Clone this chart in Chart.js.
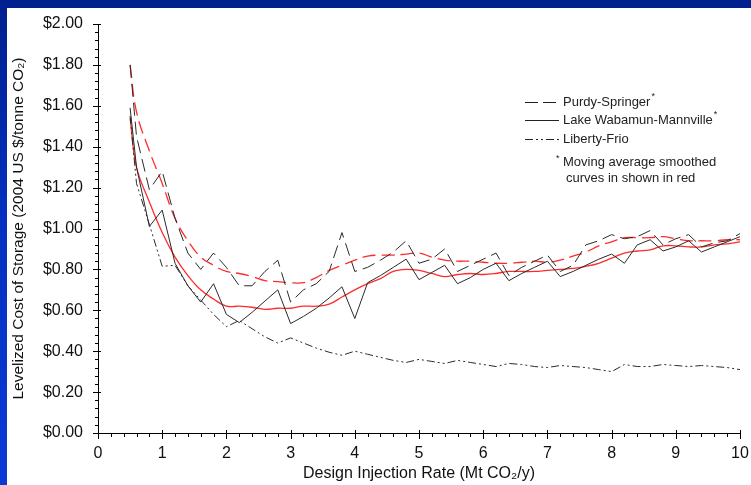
<!DOCTYPE html>
<html>
<head>
<meta charset="utf-8">
<script src="https://cdn.jsdelivr.net/npm/chart.js@4.4.0/dist/chart.umd.min.js"></script>
<style>
  html, body { margin: 0; padding: 0; }
  body {
    width: 751px; height: 485px; overflow: hidden; position: relative;
    background: linear-gradient(to bottom, #00208e 0%, #0530c0 45%, #0a3ad6 100%);
  }
  #panel { position: absolute; left: 7px; top: 8px; width: 744px; height: 477px; background: #fff; }
</style>
</head>
<body>
<div id="panel"><canvas id="chart" width="744" height="477"></canvas></div>
<script>
// injection rate (Mt CO2/y)
const rates = [0.5, 0.6, 0.8, 1.0, 1.2, 1.4, 1.6, 1.8, 2.0, 2.2,
  2.4, 2.6, 2.8, 3.0, 3.2, 3.4, 3.6, 3.8, 4.0, 4.2,
  4.4, 4.6, 4.8, 5.0, 5.2, 5.4, 5.6, 5.8, 6.0, 6.2,
  6.4, 6.6, 6.8, 7.0, 7.2, 7.4, 7.6, 7.8, 8.0, 8.2,
  8.4, 8.6, 8.8, 9.0, 9.2, 9.4, 9.6, 9.8, 10.0];

const purdyRaw = [1.80, 1.45, 1.19, 1.28, 1.05, 0.88, 0.80, 0.88, 0.81, 0.72,
  0.72, 0.79, 0.845, 0.64, 0.70, 0.73, 0.79, 0.98, 0.79, 0.81,
  0.845, 0.885, 0.94, 0.83, 0.85, 0.90, 0.79, 0.82, 0.85, 0.88,
  0.77, 0.81, 0.84, 0.87, 0.79, 0.82, 0.92, 0.94, 0.97, 0.95,
  0.96, 0.99, 0.92, 0.95, 0.97, 0.91, 0.93, 0.94, 0.975];

const lakeRaw = [1.59, 1.30, 1.01, 1.09, 0.83, 0.72, 0.64, 0.73, 0.58, 0.54,
  0.59, 0.645, 0.70, 0.535, 0.57, 0.61, 0.66, 0.715, 0.56, 0.735,
  0.77, 0.81, 0.85, 0.75, 0.785, 0.82, 0.73, 0.76, 0.80, 0.83,
  0.745, 0.78, 0.81, 0.84, 0.765, 0.79, 0.82, 0.85, 0.875, 0.83,
  0.92, 0.945, 0.89, 0.91, 0.94, 0.885, 0.91, 0.935, 0.96];

const libertyRaw = [1.55, 1.22, 1.02, 0.815, 0.82, 0.72, 0.65, 0.58, 0.52, 0.55,
  0.51, 0.47, 0.44, 0.465, 0.44, 0.415, 0.395, 0.38, 0.40, 0.385,
  0.37, 0.355, 0.345, 0.36, 0.35, 0.34, 0.355, 0.345, 0.335, 0.325,
  0.34, 0.335, 0.325, 0.32, 0.33, 0.325, 0.32, 0.31, 0.30, 0.335,
  0.325, 0.325, 0.335, 0.33, 0.325, 0.33, 0.325, 0.32, 0.31];

// moving average curves (red)
const purdySmooth = [1.80, 1.57, 1.38, 1.22, 1.05, 0.94, 0.86, 0.82, 0.79, 0.78,
  0.765, 0.745, 0.74, 0.735, 0.735, 0.76, 0.795, 0.82, 0.845, 0.865,
  0.87, 0.87, 0.875, 0.88, 0.86, 0.845, 0.84, 0.84, 0.835, 0.83,
  0.83, 0.835, 0.84, 0.835, 0.845, 0.865, 0.885, 0.915, 0.935, 0.955,
  0.955, 0.955, 0.96, 0.95, 0.94, 0.94, 0.94, 0.945, 0.945];

const lakeSmooth = [1.54, 1.30, 1.13, 0.98, 0.86, 0.77, 0.70, 0.655, 0.62, 0.62,
  0.615, 0.605, 0.61, 0.61, 0.62, 0.62, 0.63, 0.665, 0.70, 0.73,
  0.755, 0.79, 0.80, 0.795, 0.78, 0.765, 0.775, 0.78, 0.775, 0.78,
  0.79, 0.79, 0.79, 0.795, 0.80, 0.805, 0.815, 0.83, 0.855, 0.88,
  0.89, 0.895, 0.915, 0.915, 0.91, 0.91, 0.92, 0.925, 0.935];

const FONT = "'Liberation Sans', Arial, sans-serif";
const BLACK = "#2a2a2a";
const RED = "rgba(255, 20, 20, 0.9)";

function pts(values) {
  return rates.map((x, i) => ({ x: x, y: values[i] }));
}

function line(values, color, dash, width, tension) {
  return {
    data: pts(values),
    borderColor: color,
    borderWidth: width,
    borderDash: dash,
    pointRadius: 0,
    tension: tension,
    fill: false
  };
}

// axis lines, minor/major tick marks and the note-style legend
const decorations = {
  id: "decorations",
  afterDraw(chart) {
    const ctx = chart.ctx;
    const xs = chart.scales.x;
    const ys = chart.scales.y;
    const area = chart.chartArea;
    ctx.save();
    ctx.strokeStyle = "#000";
    ctx.lineWidth = 1;
    ctx.beginPath();
    ctx.moveTo(area.left + 0.5, area.top);
    ctx.lineTo(area.left + 0.5, area.bottom + 0.5);
    ctx.lineTo(area.right, area.bottom + 0.5);

    for (let k = 0; k <= 50; k++) {
      const y = Math.round(ys.getPixelForValue(k * 0.04)) + 0.5;
      const major = k % 5 === 0;
      ctx.moveTo(area.left - (major ? 5 : 3), y);
      ctx.lineTo(area.left + (major ? 3 : 0), y);
    }
    for (let k = 0; k <= 50; k++) {
      const x = Math.round(xs.getPixelForValue(k * 0.2)) + 0.5;
      const major = k % 5 === 0;
      ctx.moveTo(x, area.bottom - (major ? 3 : 0));
      ctx.lineTo(x, area.bottom + (major ? 6 : 4));
    }
    ctx.stroke();

    // legend
    const lx0 = 518, lx1 = 552, tx = 556;
    const rows = [
      { label: "Purdy-Springer", star: true, dash: [13, 5], y: 94 },
      { label: "Lake Wabamun-Mannville", star: true, dash: [], y: 112 },
      { label: "Liberty-Frio", star: false, dash: [8, 3, 2, 3, 2, 3], y: 131 }
    ];
    ctx.font = "13px " + FONT;
    ctx.textBaseline = "middle";
    ctx.fillStyle = "#222";
    rows.forEach(r => {
      ctx.beginPath();
      ctx.strokeStyle = "#222";
      ctx.setLineDash(r.dash);
      ctx.moveTo(lx0, r.y + 0.5);
      ctx.lineTo(lx1, r.y + 0.5);
      ctx.stroke();
      ctx.setLineDash([]);
      ctx.font = "13px " + FONT;
      ctx.fillText(r.label, tx, r.y);
      if (r.star) {
        const w = ctx.measureText(r.label).width;
        ctx.font = "9px " + FONT;
        ctx.fillText("*", tx + w + 1, r.y - 5);
      }
    });
    ctx.font = "9px " + FONT;
    ctx.fillText("*", 549, 151);
    ctx.font = "13px " + FONT;
    ctx.fillText("Moving average smoothed", 556, 154);
    ctx.fillText("curves in shown in red", 559, 170);
    ctx.restore();
  }
};

new Chart(document.getElementById("chart"), {
  type: "line",
  data: {
    datasets: [
      line(libertyRaw, BLACK, [8, 3, 2, 3, 2, 3], 1, 0),
      line(lakeRaw, BLACK, [], 1, 0),
      line(purdyRaw, BLACK, [13, 6], 1, 0),
      line(lakeSmooth, RED, [], 1.3, 0.4),
      line(purdySmooth, RED, [13, 6], 1.3, 0.4)
    ]
  },
  options: {
    responsive: false,
    animation: false,
    layout: { padding: { top: 16, right: 11, left: 0, bottom: 0 } },
    plugins: {
      legend: { display: false },
      tooltip: { enabled: false }
    },
    scales: {
      x: {
        type: "linear",
        min: 0,
        max: 10,
        grid: { display: false, drawTicks: false },
        border: { display: false },
        ticks: {
          stepSize: 1,
          padding: 11,
          color: "#111",
          font: { family: FONT, size: 16 },
          callback: v => String(v)
        },
        title: {
          display: true,
          text: "Design Injection Rate (Mt CO\u2082/y)",
          color: "#111",
          font: { family: FONT, size: 16 },
          padding: { top: 0, bottom: 2 }
        },
        afterFit: s => {
          s.height = 52;
          s.paddingLeft = 0;
          s.paddingRight = 0;
        }
      },
      y: {
        min: 0,
        max: 2,
        grid: { display: false, drawTicks: false },
        border: { display: false },
        ticks: {
          stepSize: 0.2,
          padding: 15,
          color: "#111",
          font: { family: FONT, size: 16 },
          callback: v => "$" + Number(v).toFixed(2)
        },
        title: {
          display: true,
          text: "Levelized Cost of Storage (2004 US $/tonne CO\u2082)",
          color: "#111",
          font: { family: FONT, size: 15.5 },
          padding: { top: 2, bottom: 0 }
        },
        afterFit: s => {
          s.width = 91;
          s.paddingTop = 0;
          s.paddingBottom = 0;
        }
      }
    }
  },
  plugins: [decorations]
});
</script>
</body>
</html>
